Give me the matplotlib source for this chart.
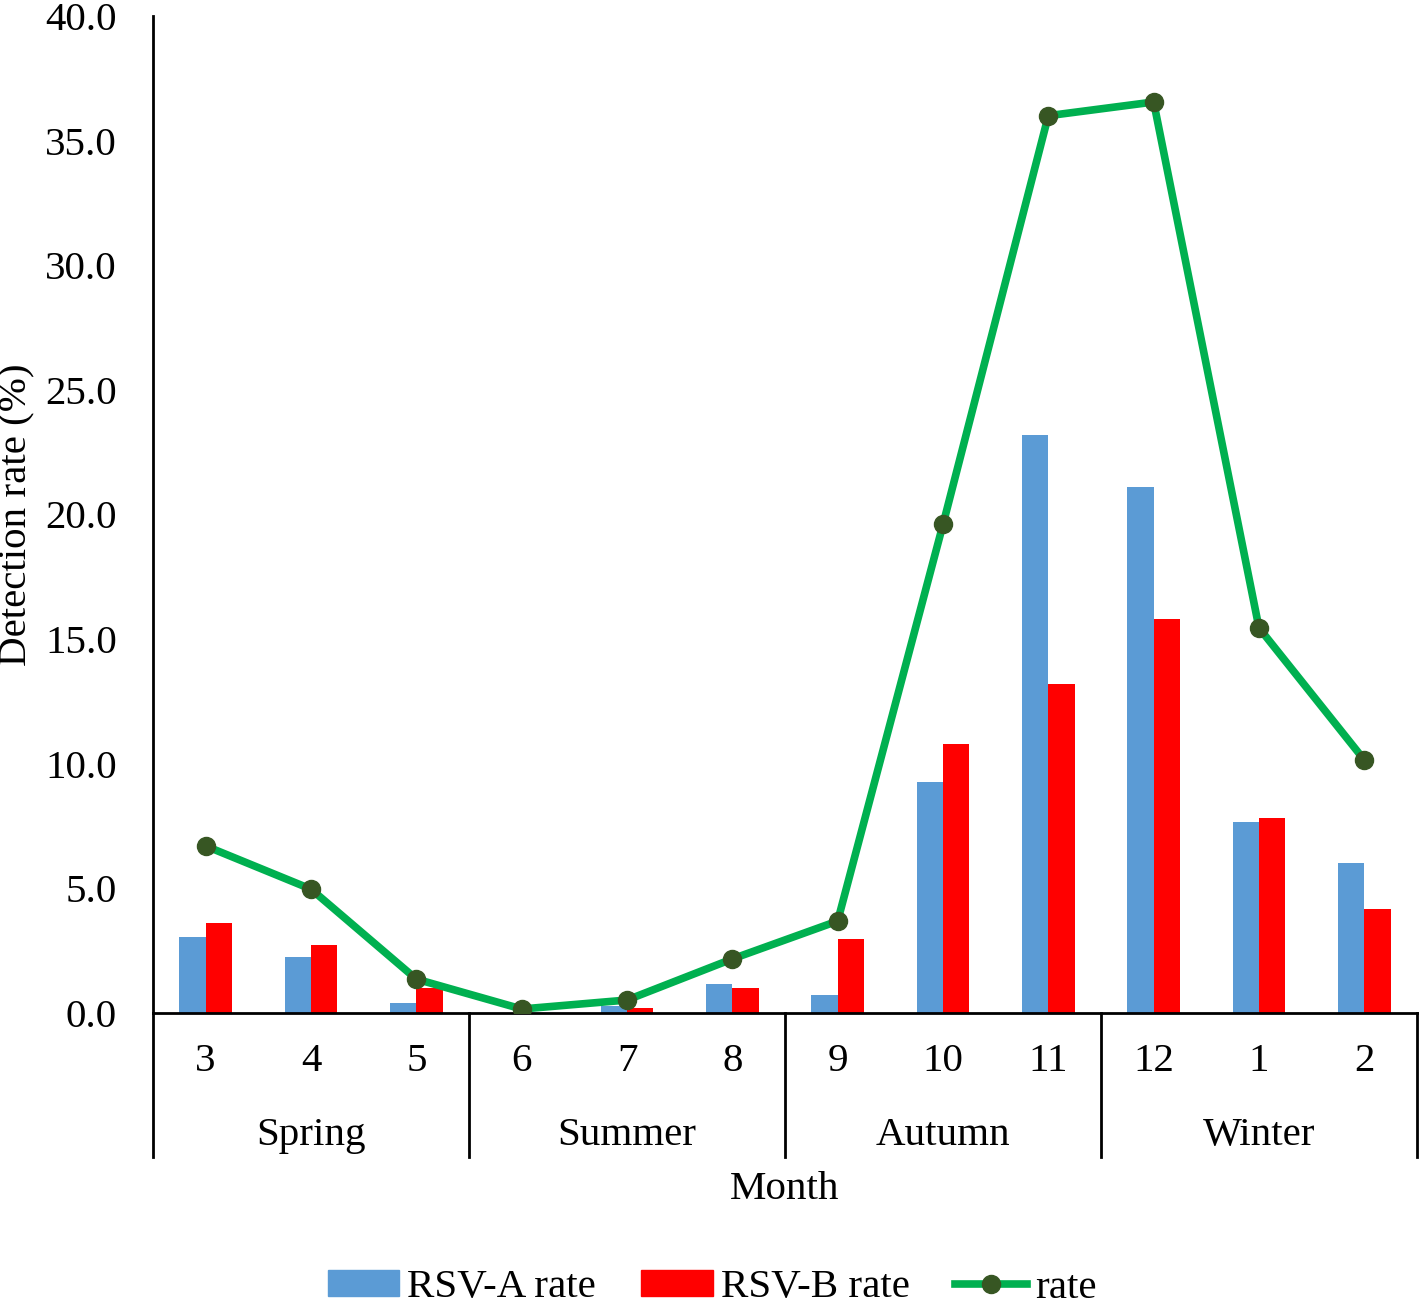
import matplotlib
matplotlib.use("Agg")
import matplotlib.pyplot as plt
import matplotlib.transforms as mtransforms
from matplotlib.lines import Line2D
from matplotlib.patches import Patch
import numpy as np

months = ["3", "4", "5", "6", "7", "8", "9", "10", "11", "12", "1", "2"]
seasons = ["Spring", "Summer", "Autumn", "Winter"]
rsv_a = [3.05, 2.25, 0.4, 0.0, 0.3, 1.16, 0.72, 9.27, 23.2, 21.1, 7.66, 6.02]
rsv_b = [3.6, 2.73, 1.0, 0.0, 0.2, 1.0, 2.97, 10.8, 13.2, 15.8, 7.82, 4.17]
rate = [6.7, 4.97, 1.36, 0.16, 0.52, 2.17, 3.69, 19.6, 36.0, 36.55, 15.45, 10.15]
yticks = [0.0, 5.0, 10.0, 15.0, 20.0, 25.0, 30.0, 35.0, 40.0]

plt.rcParams['font.family'] = ['Liberation Serif', 'DejaVu Serif']
FS = 29.5

fig = plt.figure(figsize=(14.19, 13.09), dpi=100)
ax = fig.add_axes([153/1419, 1 - 1013/1309, (1417-153)/1419, (1013-16)/1309])

x = np.arange(len(months))
w = 0.25
ax.bar(x - w/2, rsv_a, width=w, color="#5B9BD5", label="RSV-A rate")
ax.bar(x + w/2, rsv_b, width=w, color="#FF0000", label="RSV-B rate")
ax.plot(x, rate, color="#00B050", lw=5.5, marker="o", markersize=13,
        markerfacecolor="#375623", markeredgecolor="#375623", label="rate", zorder=3)

ax.set_xlim(-0.5, len(months) - 0.5)
ax.set_ylim(0, 40)
ax.set_yticks(yticks)
ax.set_yticklabels([f"{v:.1f}" for v in yticks], fontsize=FS)
ax.tick_params(axis='y', length=0, pad=26)
ax.set_xticks([])
for s in ["top", "right"]:
    ax.spines[s].set_visible(False)
ax.spines["left"].set_linewidth(2)
ax.spines["bottom"].set_linewidth(2)

trans = mtransforms.blended_transform_factory(ax.transData, ax.transAxes)
for i, m in enumerate(months):
    ax.text(i, -0.049, m, transform=trans, ha="center", va="center", fontsize=FS)
for j, s in enumerate(seasons):
    ax.text(3*j + 1, -0.1224, s, transform=trans, ha="center", va="center", fontsize=FS)
for j in range(5):
    xs = 3*j - 0.5
    ax.plot([xs, xs], [0, -0.1444], transform=trans, color="black", lw=2, clip_on=False)

ax.text(0.5, -0.1775, "Month", transform=ax.transAxes, ha="center", va="center", fontsize=FS)
fig.text(17/1419, 1 - 515/1309, "Detection rate (%)", rotation=90, ha="center", va="center", fontsize=FS)

handles = [Patch(color="#5B9BD5"), Patch(color="#FF0000"),
           Line2D([], [], color="#00B050", lw=5.5, marker="o", markersize=13,
                  markerfacecolor="#375623", markeredgecolor="#375623")]
fig.legend(handles, ["RSV-A rate", "RSV-B rate", "rate"], loc="center",
           bbox_to_anchor=(712/1419, 1 - 1288/1309), ncol=3, frameon=False,
           fontsize=FS, handlelength=1.75, handletextpad=0.2, columnspacing=1.1,
           handleheight=0.6, borderpad=0.1)

fig.savefig("out.png", dpi=100)
